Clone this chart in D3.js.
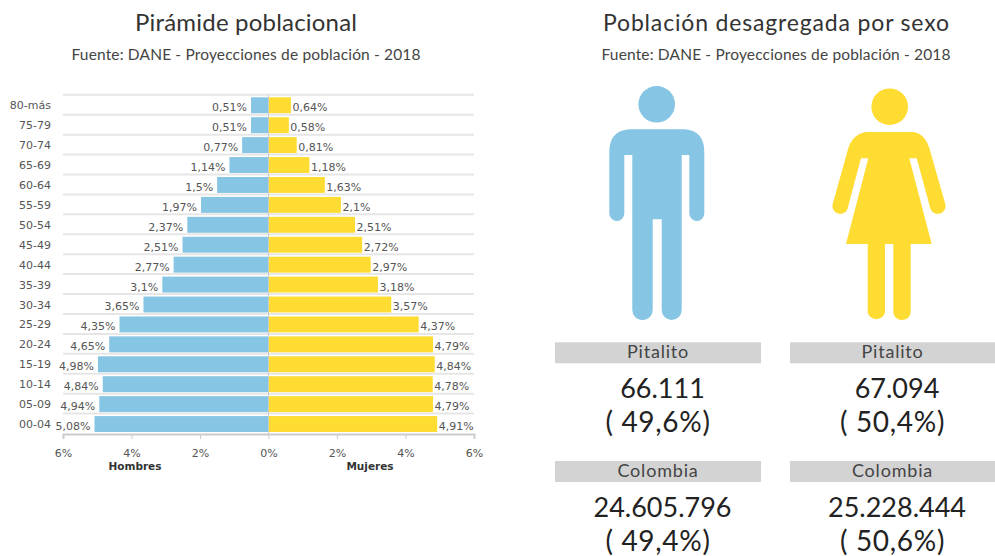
<!DOCTYPE html>
<html>
<head>
<meta charset="utf-8">
<title>Pirámide poblacional</title>
<script src="https://cdn.jsdelivr.net/npm/d3@7"></script>
<style>
html, body { margin: 0; background: #fff; }
svg { display: block; }
.titulo { font-family: Lato, sans-serif; fill: #333; }
.eje text { font-family: "DejaVu Sans", sans-serif; font-size: 11px; fill: #555; }
.eje path, .eje line { stroke: #ccc; }
</style>
</head>
<body>
<svg width="995" height="556"></svg>
<script>
// Datos de la pirámide
const edades = ["80-más", "75-79", "70-74", "65-69", "60-64", "55-59", "50-54", "45-49", "40-44", "35-39", "30-34", "25-29", "20-24", "15-19", "10-14", "05-09", "00-04"];
const hombres = [0.51, 0.51, 0.77, 1.14, 1.5, 1.97, 2.37, 2.51, 2.77, 3.1, 3.65, 4.35, 4.65, 4.98, 4.84, 4.94, 5.08];
const mujeres = [0.64, 0.58, 0.81, 1.18, 1.63, 2.1, 2.51, 2.72, 2.97, 3.18, 3.57, 4.37, 4.79, 4.84, 4.78, 4.79, 4.91];
const ticks = [-6, -4, -2, 0, 2, 4, 6];

// Datos de los recuadros
const lugares = ["Pitalito", "Colombia"];
const totalHombres = ["66.111", "24.605.796"];
const pctHombres = ["( 49,6%)", "( 49,4%)"];
const totalMujeres = ["67.094", "25.228.444"];
const pctMujeres = ["( 50,4%)", "( 50,6%)"];

const azul = "#86c5e3";
const amarillo = "#fedc32";

const svg = d3.select("svg");
const coma = d => String(d).replace(".", ",");

// Títulos
function titulo(texto, cx, y, size, largo, color) {
    svg.append("text").attr("class", "titulo")
        .attr("x", cx).attr("y", y)
        .attr("text-anchor", "middle")
        .attr("font-size", size)
        .attr("textLength", largo)
        .style("fill", color)
        .text(texto);
}
titulo("Pirámide poblacional", 246, 31, 24, 222, "#333");
titulo("Fuente: DANE - Proyecciones de población - 2018", 246, 60, 15.5, 349, "#444");
titulo("Población desagregada por sexo", 776, 31, 23, 346, "#333");
titulo("Fuente: DANE - Proyecciones de población - 2018", 776, 60, 15.5, 349, "#444");

// Escalas
const x = d3.scaleLinear().domain([-6, 6]).range([63, 474]);
const y = d3.scaleBand().domain(edades).range([95.3, 434]).paddingInner(0.2).paddingOuter(0.1);
const paso = y.step();

// Líneas de fondo
svg.append("g").selectAll("line")
    .data(edades)
    .join("line")
    .attr("x1", x(-6)).attr("x2", x(6))
    .attr("y1", d => y(d) - paso * 0.1 - 0.5)
    .attr("y2", d => y(d) - paso * 0.1 - 0.5)
    .attr("stroke", "#e6e6e6").attr("stroke-width", 2);

// Barras
svg.append("g").selectAll("rect")
    .data(hombres)
    .join("rect")
    .attr("x", d => x(-d))
    .attr("y", (d, i) => y(edades[i]))
    .attr("width", d => x(0) - x(-d))
    .attr("height", y.bandwidth())
    .attr("fill", azul);

svg.append("g").selectAll("rect")
    .data(mujeres)
    .join("rect")
    .attr("x", x(0) + 0.5)
    .attr("y", (d, i) => y(edades[i]))
    .attr("width", d => x(d) - x(0))
    .attr("height", y.bandwidth())
    .attr("fill", amarillo);

// Eje central
svg.append("line")
    .attr("x1", x(0)).attr("x2", x(0))
    .attr("y1", 95).attr("y2", 434)
    .attr("stroke", "#ccc");

// Etiquetas de las barras
const etiquetas = svg.append("g")
    .attr("font-family", "'DejaVu Sans', sans-serif")
    .attr("font-size", 11)
    .attr("fill", "#555");

etiquetas.selectAll(".h")
    .data(hombres)
    .join("text")
    .attr("class", "h")
    .attr("x", d => x(-d) - 4)
    .attr("y", (d, i) => y(edades[i]) + y.bandwidth() / 2 + 6)
    .attr("text-anchor", "end")
    .text(d => coma(d) + "%");

etiquetas.selectAll(".m")
    .data(mujeres)
    .join("text")
    .attr("class", "m")
    .attr("x", d => x(d) + 2)
    .attr("y", (d, i) => y(edades[i]) + y.bandwidth() / 2 + 6)
    .text(d => coma(d) + "%");

// Ejes
svg.append("g").attr("class", "eje")
    .attr("transform", "translate(0,434)")
    .call(d3.axisBottom(x).tickValues(ticks).tickSize(5).tickPadding(10).tickFormat(d => Math.abs(d) + "%"))
    .call(g => g.select(".domain").attr("stroke-width", 2));

svg.append("g").attr("class", "eje")
    .attr("transform", "translate(52,0.5)")
    .call(d3.axisLeft(y).tickSize(0).tickPadding(1))
    .call(g => g.select(".domain").remove());

svg.append("text").attr("x", 135).attr("y", 470)
    .attr("text-anchor", "middle")
    .attr("font-family", "'DejaVu Sans', sans-serif")
    .attr("font-size", 10.5).attr("font-weight", "bold").attr("fill", "#333")
    .text("Hombres");
svg.append("text").attr("x", 370).attr("y", 470)
    .attr("text-anchor", "middle")
    .attr("font-family", "'DejaVu Sans', sans-serif")
    .attr("font-size", 10.5).attr("font-weight", "bold").attr("fill", "#333")
    .text("Mujeres");

// Iconos
svg.append("circle").attr("cx", 656.7).attr("cy", 104.3).attr("r", 18.3).attr("fill", azul);
svg.append("path").attr("fill", azul).attr("d",
    "M629,129.3 H685 Q704.3,131 704.3,152 V213.5 A7.5,7.5 0 0 1 689.3,213.5 V155 H681.7 V310 " +
    "A10,10 0 0 1 661.7,310 V219.3 H652.7 V310 A10,10 0 0 1 632.3,310 V155 H624.3 V213.5 " +
    "A7.5,7.5 0 0 1 609.3,213.5 V152 Q609.3,131 629,129.3 Z");

svg.append("circle").attr("cx", 889.7).attr("cy", 106.7).attr("r", 18.3).attr("fill", amarillo);
svg.append("path").attr("fill", amarillo).attr("d",
    "M866,132 H914 Q925,134 929.3,148 L945,203 A7.5,7.5 0 0 1 930.5,209 L916.7,158.3 H909.3 L931.7,244 H910.7 V312 " +
    "A8.7,8 0 0 1 893.3,312 V244 H885 V312 A8.7,8 0 0 1 867.7,312 V244 H846 L868.3,158.3 H861 " +
    "L847.5,209 A7.5,7.5 0 0 1 833,203 L848.3,148 Q853,134 866,132 Z");

// Recuadros de cifras
function bloque(x0, ancho, totales, pcts) {
    const cx = x0 + ancho / 2;
    const filas = [342.3, 461];
    lugares.forEach((lugar, i) => {
        const g = svg.append("g").attr("font-family", "Lato, sans-serif").attr("text-anchor", "middle");
        g.append("rect").attr("x", x0).attr("y", filas[i]).attr("width", ancho).attr("height", 21).attr("fill", "#d3d3d3");
        g.append("text").attr("x", cx).attr("y", filas[i] + 16).attr("font-size", 18).attr("letter-spacing", 0.8).attr("fill", "#444").text(lugar);
        g.append("text").attr("x", cx + 4.5).attr("y", filas[i] + 56).attr("font-size", 27).attr("fill", "#222").text(totales[i]);
        g.append("text").attr("x", cx).attr("y", filas[i] + 89.5).attr("font-size", 28).attr("letter-spacing", 0.7).attr("fill", "#222").text(pcts[i]);
    });
}
bloque(555, 206, totalHombres, pctHombres);
bloque(790, 205, totalMujeres, pctMujeres);
</script>
</body>
</html>
